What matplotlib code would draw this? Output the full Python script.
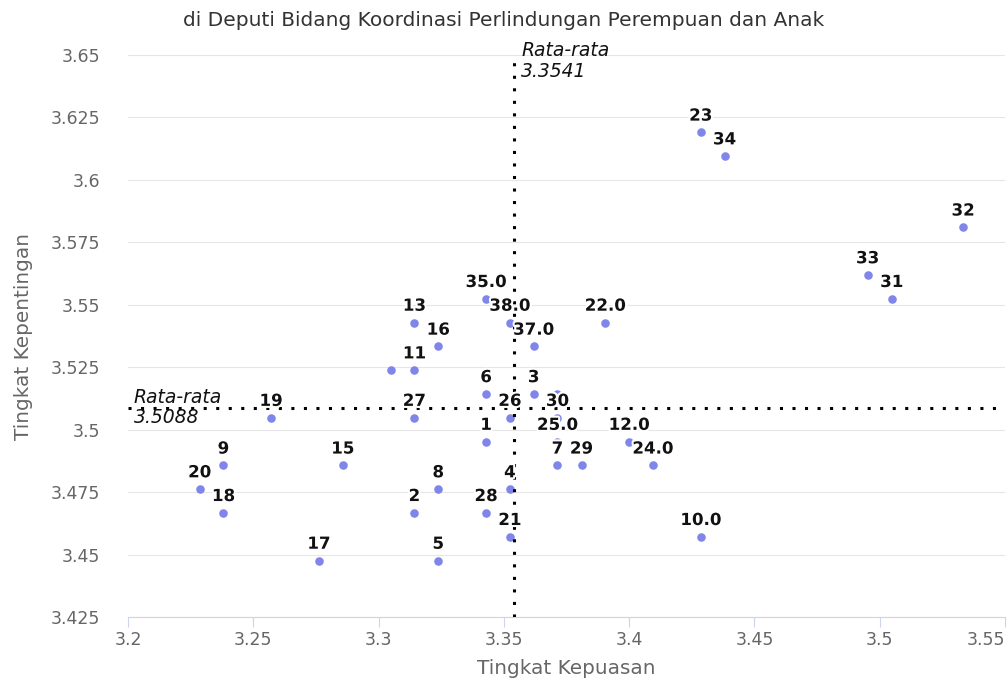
import matplotlib
matplotlib.use("Agg")
import matplotlib.pyplot as plt
import matplotlib.patheffects as pe

# titik per unit: (label, kepuasan, kepentingan)
labels = ['1', '2', '3', '4', '5', '6', '7', '8', '9', '10.0',
          '11', '12.0', '13', '15', '16', '17', '18', '19', '20', '21',
          '22.0', '23', '24.0', '25.0', '26', '27', '28', '29', '30', '31',
          '32', '33', '34', '35.0', '37.0', '38.0', '', '']
kepuasan = [3.3429, 3.3143, 3.3619, 3.3524, 3.3238, 3.3429, 3.3714, 3.3238, 3.2381, 3.4286,
            3.3143, 3.4000, 3.3143, 3.2857, 3.3238, 3.2762, 3.2381, 3.2571, 3.2286, 3.3524,
            3.3905, 3.4286, 3.4095, 3.3714, 3.3524, 3.3143, 3.3429, 3.3810, 3.3714, 3.5048,
            3.5333, 3.4952, 3.4381, 3.3429, 3.3619, 3.3524, 3.3048, 3.3714]
kepentingan = [3.4952, 3.4667, 3.5143, 3.4762, 3.4476, 3.5143, 3.4857, 3.4762, 3.4857, 3.4571,
               3.5238, 3.4952, 3.5429, 3.4857, 3.5333, 3.4476, 3.4667, 3.5048, 3.4762, 3.4571,
               3.5429, 3.6190, 3.4857, 3.4952, 3.5048, 3.5048, 3.4667, 3.4857, 3.5048, 3.5524,
               3.5810, 3.5619, 3.6095, 3.5524, 3.5333, 3.5429, 3.5238, 3.5143]

mean_x = 3.3541
mean_y = 3.5088

x_ticks = [3.2, 3.25, 3.3, 3.35, 3.4, 3.45, 3.5, 3.55]
y_ticks = [3.425, 3.45, 3.475, 3.5, 3.525, 3.55, 3.575, 3.6, 3.625, 3.65]

fig = plt.figure(figsize=(10.07, 6.79), dpi=100)
W, H = 1007, 679
ax = fig.add_axes([128 / W, (H - 617) / H, (1005 - 128) / W, (617 - 55) / H])

ax.set_xlim(3.2, 3.55)
ax.set_ylim(3.425, 3.65)

ax.scatter(kepuasan, kepentingan, s=38, color='#8085e9', zorder=3, linewidths=0)

for lb, xv, yv in zip(labels, kepuasan, kepentingan):
    if not lb:
        continue
    ax.annotate(lb, (xv, yv), xytext=(0, 8.5), textcoords='offset points',
                ha='center', va='baseline', fontsize=12, fontweight='bold',
                color='#111111', zorder=5,
                path_effects=[pe.withStroke(linewidth=3, foreground='white')])

# garis rata-rata
dots = (0, (1, 3.1))
ax.axvline(mean_x, color='black', lw=2.2, ls=dots, zorder=4)
ax.axhline(mean_y, color='black', lw=2.2, ls=dots, zorder=4)
ax.annotate('Rata-rata\n%.4f' % mean_x, (mean_x, 3.65), xytext=(5, -4.5),
            textcoords='offset points', ha='left', va='center', fontsize=13.5,
            style='italic', color='#111111', linespacing=1.1, zorder=6,
            annotation_clip=False)
ax.annotate('Rata-rata\n%.4f' % mean_y, (3.2, mean_y), xytext=(4, 0),
            textcoords='offset points', ha='left', va='center', fontsize=13.5,
            style='italic', color='#111111', linespacing=1.1, zorder=6)

ax.set_xticks(x_ticks)
ax.set_xticklabels([('%g' % v) for v in x_ticks])
ax.set_yticks(y_ticks)
ax.set_yticklabels([('%g' % v) for v in y_ticks])
for t in ax.get_xticklabels() + ax.get_yticklabels():
    t.set_fontsize(12.5)
    t.set_color('#666666')
ax.get_xticklabels()[-1].set_horizontalalignment('right')

ax.grid(axis='y', color='#e6e6e6', lw=0.8, zorder=0)
ax.set_axisbelow(True)
for s in ['top', 'right', 'left']:
    ax.spines[s].set_visible(False)
ax.spines['bottom'].set_color('#ccd6eb')
ax.spines['bottom'].set_linewidth(0.8)
ax.tick_params(axis='x', direction='out', length=7, width=0.8, color='#ccd6eb', pad=3)
ax.tick_params(axis='y', length=0, pad=20)

ax.set_xlabel('Tingkat Kepuasan', fontsize=14.4, color='#666666', labelpad=7)
ax.set_ylabel('Tingkat Kepentingan', fontsize=14.4, color='#666666', labelpad=13)

fig.text(0.5, 1 - 20 / H, 'di Deputi Bidang Koordinasi Perlindungan Perempuan dan Anak',
         ha='center', va='center', fontsize=14.5, color='#333333')

fig.savefig('out.png', dpi=100)
